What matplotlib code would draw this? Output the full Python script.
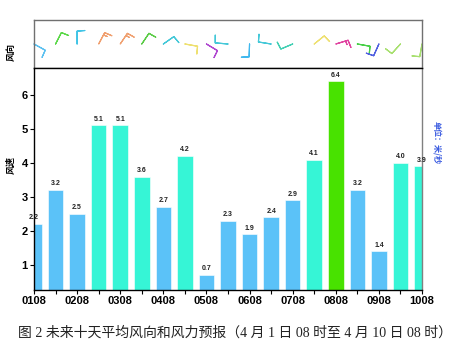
import numpy as np
import matplotlib
matplotlib.use("Agg")
import matplotlib.pyplot as plt

# ---- data ----
day_labels = ["0108", "0208", "0308", "0408", "0508", "0608", "0708", "0808", "0908", "1008"]
speeds = [2.2, 3.2, 2.5, 5.1, 5.1, 3.6, 2.7, 4.2, 0.7, 2.3, 1.9, 2.4, 2.9, 4.1, 6.4, 3.2, 1.4, 4.0, 3.9]
directions = [119, 27, 0, 28, 34, 34, 55, 100, 121, 275, 182, 279, 247, 51, 73, 100, 204, 222, 190]
barb_counts = [1, 1, 1, 1.5, 1.5, 1, 1, 1, 1, 1, 1, 1, 1, 1, 1.5, 1, 1, 1, 1]
bar_colors = ["#5BC2F8", "#5BC2F8", "#5BC2F8", "#36F5D6", "#36F5D6", "#36F5D6", "#5BC2F8",
              "#36F5D6", "#5BC2F8", "#5BC2F8", "#5BC2F8", "#5BC2F8", "#5BC2F8", "#36F5D6",
              "#48E200", "#5BC2F8", "#5BC2F8", "#36F5D6", "#36F5D6"]
barb_colors = ["#5BC0F0", "#5CD84A", "#40C4E6", "#F0A070", "#F0A070", "#5CCC48", "#44C8D8",
               "#EEE070", "#B048D0", "#44C8D8", "#40B8EE", "#44C8D8", "#44D0B4", "#EEE070",
               "#E044A0", "#48D048", "#5060E0", "#A8E070", "#A8E070"]

fig = plt.figure(figsize=(4.59, 3.53), dpi=100)
L, R = 34 / 459, 422 / 459
ax_top = fig.add_axes([L, 1 - 68 / 353, R - L, 48 / 353])
ax = fig.add_axes([L, 1 - 290 / 353, R - L, 222 / 353])

x = np.arange(len(speeds))

# ---- wind barbs panel ----
th = np.deg2rad(directions)
mag = np.array(barb_counts)
u = -mag * np.sin(th)
v = -mag * np.cos(th)
ax_top.barbs(x, np.zeros(len(x)), u, v, barbcolor=barb_colors, flagcolor=barb_colors,
             length=4.3, linewidth=0.85,
             barb_increments=dict(half=0.5, full=1, flag=5),
             sizes=dict(height=0.6, width=0.1, spacing=0.2),
             clip_on=False)
ax_top.set_xlim(0, len(x) - 1)
ax_top.set_ylim(-1, 1)
ax_top.set_xticks([])
ax_top.set_yticks([])
for s in ax_top.spines.values():
    s.set_color("#707070")
    s.set_linewidth(1)

# ---- bars panel ----
ax.bar(x, speeds, width=0.72, color=bar_colors, edgecolor="white", linewidth=0.4, zorder=2)
for xi, s in zip(x, speeds):
    ax.text(xi, s + 0.08, f"{s:.1f}", ha="center", va="bottom", fontsize=5,
            fontweight="bold", family="Liberation Sans", color="#222222", clip_on=False)

ax.set_xlim(0, len(x) - 1)
ax.set_ylim(0.265, 6.79)
ax.set_xticks(x[::2])
ax.set_xticklabels(day_labels)
ax.set_xticks(x[1::2], minor=True)
ax.set_yticks([1, 2, 3, 4, 5, 6])
ax.tick_params(axis="both", which="both", direction="out", length=3, width=0.8, pad=1.5,
               labelsize=8)
for lab in ax.get_xticklabels() + ax.get_yticklabels():
    lab.set_fontweight("bold")
    lab.set_family("Liberation Sans")

for side in ["left", "bottom", "top"]:
    ax.spines[side].set_color("black")
    ax.spines[side].set_linewidth(1)
ax.spines["right"].set_color("#808080")
ax.spines["right"].set_linewidth(1)

cjk = ["Noto Sans CJK SC", "DejaVu Sans"]
fig.text(11 / 459, 1 - 52 / 353, "风向", rotation=90, ha="center", va="center",
         fontsize=6.5, fontweight="bold", family=cjk)
fig.text(11 / 459, 1 - 165 / 353, "风速", rotation=90, ha="center", va="center",
         fontsize=6.5, fontweight="bold", family=cjk)
fig.text(437 / 459, 1 - 143 / 353, "单位：米/秒", rotation=-90, ha="center", va="center",
         fontsize=5.8, fontweight="bold", color="#3A5BE0", family=cjk)

fig.text(235 / 459, 1 - 333 / 353,
         "图 2 未来十天平均风向和风力预报（4 月 1 日 08 时至 4 月 10 日 08 时）",
         ha="center", va="center", fontsize=10, color="#222222",
         family=["Liberation Serif", "Noto Sans CJK SC"])

fig.savefig("out.png", dpi=100)
